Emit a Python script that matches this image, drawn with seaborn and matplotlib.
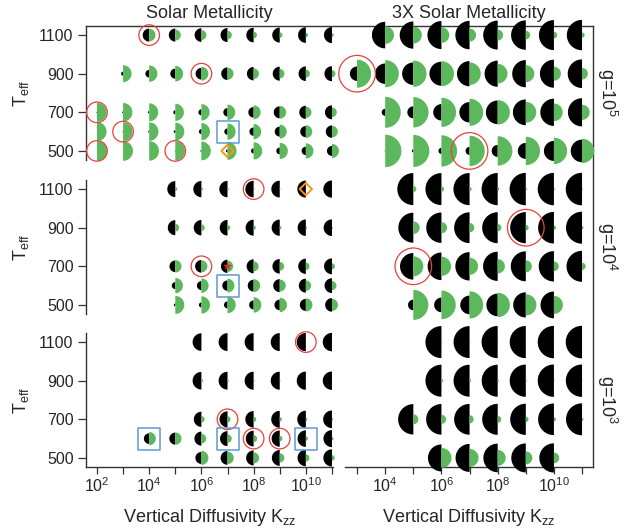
import numpy as np
import pandas as pd
import matplotlib
matplotlib.use("Agg")
import matplotlib.pyplot as plt
import seaborn as sns
from matplotlib.path import Path
from matplotlib.markers import MarkerStyle
from matplotlib.ticker import NullLocator

sns.set_theme(style="white")
plt.rcParams["font.family"] = ["Liberation Sans", "DejaVu Sans"]
plt.rcParams["mathtext.fontset"] = "custom"
plt.rcParams["mathtext.rm"] = "Liberation Sans"
plt.rcParams["mathtext.it"] = "Liberation Sans:italic"
plt.rcParams["mathtext.default"] = "regular"

# ---------------- data ----------------
teff_ticks = [500, 700, 900, 1100]
col_titles = ["Solar Metallicity", "3X Solar Metallicity"]
row_labels = ["g=10$^{5}$", "g=10$^{4}$", "g=10$^{3}$"]

# first log10(Kzz) of each Teff row, and the two half-disc quantities per row
solar_g5_start = {1100: 4, 900: 3, 700: 2, 600: 2, 500: 2}
solar_g5_black = {
    1100: [6.5, 6.5, 6.8, 7.0, 7.3, 7.5, 7.8, 8.0],
    900: [2.0, 3.8, 5.0, 5.8, 6.3, 6.7, 7.0, 7.3, 7.5],
    700: [0.6, 0.9, 1.2, 2.0, 3.0, 4.2, 5.3, 6.0, 6.6, 7.0],
    600: [0.3, 0.5, 1.0, 1.5, 2.5, 3.2, 4.2, 5.0, 5.6, 6.2],
    500: [0.0, 0.2, 0.4, 0.6, 1.0, 1.6, 2.6, 3.4, 4.2, 5.0],
}
solar_g5_green = {
    1100: [6.3, 5.5, 5.0, 4.3, 3.3, 2.7, 2.2, 1.8],
    900: [8.5, 8.2, 7.8, 7.0, 6.0, 5.3, 4.7, 4.0, 3.5],
    700: [9.5, 9.3, 9.0, 8.6, 8.2, 7.7, 7.0, 6.4, 5.6, 4.8],
    600: [9.6, 9.4, 9.3, 9.0, 8.6, 8.1, 7.6, 7.0, 6.4, 5.8],
    500: [10.0, 9.9, 9.8, 9.6, 9.4, 9.0, 8.6, 8.1, 7.6, 7.0],
}

solar_g4_start = {1100: 5, 900: 5, 700: 5, 600: 5, 500: 5}
solar_g4_black = {
    1100: [8.0, 8.1, 8.2, 8.3, 8.4, 8.5, 8.6],
    900: [7.5, 7.7, 7.8, 8.0, 8.1, 8.2, 8.3],
    700: [5.8, 6.3, 6.6, 7.0, 7.3, 7.6, 7.9],
    600: [3.5, 4.5, 5.2, 5.9, 6.5, 7.0, 7.4],
    500: [1.5, 2.5, 3.5, 4.5, 5.3, 6.0, 6.8],
}
solar_g4_green = {
    1100: [2.0, 1.6, 1.3, 1.0, 0.8, 0.6, 0.5],
    900: [3.8, 3.3, 2.7, 2.2, 1.7, 1.3, 1.0],
    700: [6.2, 6.0, 5.6, 5.0, 4.4, 3.7, 3.0],
    600: [7.6, 7.2, 6.9, 6.5, 6.0, 5.3, 4.5],
    500: [9.0, 8.6, 8.2, 7.7, 7.2, 6.6, 6.0],
}

solar_g3_start = {1100: 6, 900: 6, 700: 6, 600: 4, 500: 6}
solar_g3_black = {
    1100: [8.8, 8.9, 9.0, 9.0, 9.1, 9.2],
    900: [8.8, 8.9, 9.0, 9.0, 9.1, 9.2],
    700: [7.6, 8.0, 8.3, 8.5, 8.6, 8.8],
    600: [5.3, 6.0, 7.0, 7.5, 7.9, 8.1, 8.3, 8.5],
    500: [6.0, 6.9, 7.5, 7.9, 8.3, 8.6],
}
solar_g3_green = {
    1100: [0.8, 0.6, 0.5, 0.4, 0.3, 0.3],
    900: [1.6, 1.3, 1.0, 0.8, 0.6, 0.5],
    700: [3.2, 3.0, 2.6, 2.1, 1.6, 1.2],
    600: [6.6, 6.2, 4.8, 4.2, 3.5, 2.7, 2.1, 1.6],
    500: [7.0, 6.2, 5.5, 4.6, 3.6, 2.7],
}

metal3_g5_start = {1100: 4, 900: 3, 700: 4, 500: 4}
metal3_g5_black = {
    1100: [13.3, 13.6, 14.0, 14.2, 14.5, 14.7, 15.0, 15.2],
    900: [7.2, 10.2, 11.2, 12.0, 12.6, 13.1, 13.6, 14.0, 14.3],
    700: [3.5, 6.0, 8.2, 10.2, 11.8, 12.9, 13.6, 14.1],
    500: [0.6, 1.5, 3.0, 4.0, 6.0, 8.0, 10.0, 11.3],
}
metal3_g5_green = {
    1100: [8.8, 8.5, 7.8, 6.5, 5.4, 4.3, 3.3, 2.6],
    900: [14.0, 13.6, 13.2, 12.5, 11.2, 9.8, 8.5, 7.0, 5.8],
    700: [15.5, 15.2, 14.6, 13.6, 12.2, 10.4, 8.8, 7.6],
    500: [16.2, 16.0, 15.6, 15.2, 14.7, 14.2, 13.2, 12.2],
}

metal3_g4_start = {1100: 5, 900: 5, 700: 5, 500: 5}
metal3_g4_black = {
    1100: [16.0, 16.0, 16.1, 16.1, 16.2, 16.2, 16.3],
    900: [15.0, 15.2, 15.4, 15.5, 15.6, 15.8, 16.0],
    700: [13.3, 13.8, 14.2, 14.6, 15.0, 15.2, 15.5],
    500: [5.3, 7.3, 9.3, 11.3, 12.6, 13.4],
}
metal3_g4_green = {
    1100: [3.0, 2.6, 2.0, 1.6, 1.2, 1.0, 0.8],
    900: [6.3, 5.6, 4.7, 3.7, 2.8, 2.1, 1.5],
    700: [10.0, 9.6, 8.5, 7.2, 6.0, 4.8, 3.6],
    500: [15.0, 14.3, 13.6, 12.2, 10.6, 9.0],
}

metal3_g3_start = {1100: 6, 900: 6, 700: 5, 500: 6}
metal3_g3_black = {
    1100: [16.0, 16.0, 16.1, 16.1, 16.2, 16.3],
    900: [16.0, 16.0, 16.0, 16.1, 16.2, 16.2],
    700: [15.2, 15.3, 15.4, 15.5, 15.6, 15.8, 16.0],
    500: [13.5, 14.0, 14.3, 14.5, 14.6],
}
metal3_g3_green = {
    1100: [1.0, 0.8, 0.6, 0.5, 0.4, 0.3],
    900: [1.8, 1.5, 1.2, 1.0, 0.7, 0.5],
    700: [5.0, 4.6, 4.1, 3.5, 2.7, 2.0, 1.5],
    500: [10.0, 9.0, 8.0, 6.5, 5.3],
}

# highlighted models (log10 Kzz, Teff)
red_circles = {
    (0, 0): [(4, 1100), (6, 900), (2, 700), (3, 600), (2, 500), (5, 500)],
    (0, 1): [(3, 900), (7, 500)],
    (1, 0): [(8, 1100), (6, 700)],
    (1, 1): [(9, 900), (5, 700)],
    (2, 0): [(10, 1100), (7, 700), (8, 600), (9, 600)],
    (2, 1): [],
}
blue_squares = {
    (0, 0): [(7, 600)],
    (1, 0): [(7, 600)],
    (2, 0): [(4, 600), (7, 600), (10, 600)],
}
orange_diamonds = {
    (0, 0): [(7, 500)],
    (1, 0): [(10, 1100)],
}
red_stars = {
    (1, 0): [(7, 700)],
}

panels = {
    (0, 0): (solar_g5_start, solar_g5_black, solar_g5_green),
    (1, 0): (solar_g4_start, solar_g4_black, solar_g4_green),
    (2, 0): (solar_g3_start, solar_g3_black, solar_g3_green),
    (0, 1): (metal3_g5_start, metal3_g5_black, metal3_g5_green),
    (1, 1): (metal3_g4_start, metal3_g4_black, metal3_g4_green),
    (2, 1): (metal3_g3_start, metal3_g3_black, metal3_g3_green),
}

# ---------------- styling ----------------
GREEN = "#5cb85c"
RED = "#e8413c"
BLUE = "#5b9bd5"
ORANGE = "#f7941d"
SPINE = "#333333"
PX2PT = 72.0 / 100.0


def half_disc(left):
    t = np.linspace(np.pi / 2, 3 * np.pi / 2, 60) if left else np.linspace(-np.pi / 2, np.pi / 2, 60)
    verts = np.column_stack([np.cos(t), np.sin(t)])
    verts = np.vstack([verts, verts[:1]])
    codes = [Path.MOVETO] + [Path.LINETO] * (len(verts) - 2) + [Path.CLOSEPOLY]
    return MarkerStyle(Path(verts, codes))


LEFT_HALF = half_disc(True)
RIGHT_HALF = half_disc(False)


def area(r_px):
    return (2 * np.asarray(r_px, float) * PX2PT) ** 2


W, H = 636, 529
fig = plt.figure(figsize=(W / 100, H / 100), dpi=100)

# outer frame (top + right lines)
frame = fig.add_axes([86 / W, 62 / H, (593 - 86) / W, (467 - 26) / H], zorder=0)
frame.set_facecolor("none")
frame.set_xticks([]); frame.set_yticks([])
for s in ["left", "bottom"]:
    frame.spines[s].set_visible(False)
for s in ["top", "right"]:
    frame.spines[s].set_color(SPINE)
    frame.spines[s].set_linewidth(1.0)

col_x = [(86, 333), (345, 593)]
row_y = [(26, 160), (180, 314), (333, 467)]
col_xlim = [(10 ** 1.58, 10 ** 11.04), (10 ** 2.57, 10 ** 11.39)]
circle_r = [10.3, 18.3]

for (ri, ci), (starts, blacks, greens) in panels.items():
    x0, x1 = col_x[ci]
    y0, y1 = row_y[ri]
    ax = fig.add_axes([x0 / W, (H - y1) / H, (x1 - x0) / W, (y1 - y0) / H], zorder=1)
    ax.set_facecolor("none")

    rows = []
    for teff, st in starts.items():
        for k, (b, g) in enumerate(zip(blacks[teff], greens[teff])):
            rows.append({"Kzz": 10.0 ** (st + k), "Teff": teff, "black": b, "green": g})
    df = pd.DataFrame(rows)

    sns.scatterplot(data=df, x="Kzz", y="Teff", marker=LEFT_HALF, s=area(df["black"]),
                    color="black", edgecolor="none", linewidth=0, legend=False,
                    clip_on=False, zorder=3, ax=ax)
    sns.scatterplot(data=df, x="Kzz", y="Teff", marker=RIGHT_HALF, s=area(df["green"]),
                    color=GREEN, edgecolor="none", linewidth=0, legend=False,
                    clip_on=False, zorder=3, ax=ax)

    rc = red_circles.get((ri, ci), [])
    if rc:
        d = pd.DataFrame({"Kzz": [10.0 ** e for e, _ in rc], "Teff": [t for _, t in rc]})
        sns.scatterplot(data=d, x="Kzz", y="Teff", marker="o", s=area(circle_r[ci]),
                        facecolor="none", edgecolor=RED, linewidth=0.9, legend=False,
                        clip_on=False, zorder=4, ax=ax)
    bs = blue_squares.get((ri, ci), [])
    if bs:
        d = pd.DataFrame({"Kzz": [10.0 ** e for e, _ in bs], "Teff": [t for _, t in bs]})
        sns.scatterplot(data=d, x="Kzz", y="Teff", marker="s", s=(22 * PX2PT) ** 2,
                        facecolor="none", edgecolor=BLUE, linewidth=1.1, legend=False,
                        clip_on=False, zorder=4, ax=ax)
    od = orange_diamonds.get((ri, ci), [])
    if od:
        d = pd.DataFrame({"Kzz": [10.0 ** e for e, _ in od], "Teff": [t for _, t in od]})
        sns.scatterplot(data=d, x="Kzz", y="Teff", marker="D", s=(12.3 * PX2PT / 1.414) ** 2,
                        facecolor="none", edgecolor=ORANGE, linewidth=1.4, legend=False,
                        clip_on=False, zorder=4, ax=ax)
    rs = red_stars.get((ri, ci), [])
    if rs:
        d = pd.DataFrame({"Kzz": [10.0 ** e for e, _ in rs], "Teff": [t for _, t in rs]})
        sns.scatterplot(data=d, x="Kzz", y="Teff", marker="*", s=(8.8 * PX2PT / 0.95) ** 2,
                        color="#e8281e", edgecolor="none", linewidth=0, legend=False,
                        clip_on=False, zorder=5, ax=ax)

    ax.set_xscale("log")
    ax.set_xlim(*col_xlim[ci])
    ax.set_ylim(453, 1147)
    ax.xaxis.set_minor_locator(NullLocator())
    ax.set_xlabel("")
    ax.set_ylabel("")
    for s in ["top", "right", "left", "bottom"]:
        ax.spines[s].set_visible(False)
        ax.spines[s].set_color(SPINE)
        ax.spines[s].set_linewidth(1.0)

    if ci == 0:
        ax.spines["left"].set_visible(True)
        ax.set_yticks(teff_ticks)
        ax.set_yticklabels([str(t) for t in teff_ticks])
        ax.tick_params(axis="y", left=True, direction="out", length=6, width=0.9,
                       color=SPINE, pad=3, labelsize=11.5)
        ax.set_ylabel("T$_{eff}$", fontsize=13, labelpad=6)
    else:
        ax.set_yticks([])
        ax.text(1.056, 0.5, row_labels[ri], rotation=270, transform=ax.transAxes,
                ha="center", va="center", fontsize=13)

    if ri == 2:
        ax.spines["bottom"].set_visible(True)
        exps = list(range(2, 12)) if ci == 0 else list(range(3, 12))
        ax.set_xticks([10.0 ** e for e in exps])
        ax.set_xticklabels(["$10^{%d}$" % e if e % 2 == 0 else "" for e in exps])
        ax.tick_params(axis="x", bottom=True, direction="out", length=5, width=0.9,
                       color=SPINE, pad=2, labelsize=11.5)
        ax.set_xlabel("Vertical Diffusivity K$_{zz}$", fontsize=13, labelpad=8)
    else:
        ax.set_xticks([])

fig.text(209.5 / W, 1 - 18 / H, col_titles[0], ha="center", va="baseline", fontsize=13)
fig.text(469 / W, 1 - 18 / H, col_titles[1], ha="center", va="baseline", fontsize=13)

fig.savefig("out.png", dpi=100)
